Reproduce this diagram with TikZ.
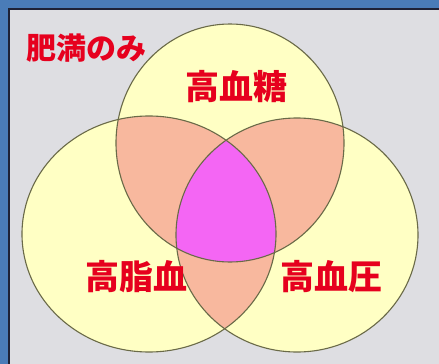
\documentclass[tikz,border=0pt]{standalone}
\usepackage{fontspec}
\newfontfamily\cjk{Noto Sans CJK JP}
\definecolor{bg}{HTML}{DEDEE2}
\definecolor{frameblue}{HTML}{4A7CB8}
\definecolor{framedark}{HTML}{1E2236}
\definecolor{yel}{HTML}{FFFFC4}
\definecolor{peach}{HTML}{F8B89E}
\definecolor{purp}{HTML}{F466F4}
\definecolor{edge}{HTML}{6A6A48}
\definecolor{lbl}{HTML}{E6001E}
\tikzset{
  lab/.style={text=lbl, font=\cjk\bfseries\fontsize{34}{34}\selectfont, inner sep=0pt},
  lab small/.style={text=lbl, font=\cjk\bfseries\fontsize{30}{30}\selectfont, inner sep=0pt},
  rim/.style={draw=edge, line width=1.1pt}
}
\begin{document}
\begin{tikzpicture}[x=1pt,y=-1pt]
\useasboundingbox (0,0) rectangle (439,364);
\fill[bg] (0,0) rectangle (439,364);
\fill[frameblue] (0,0) rectangle (439,8);
\fill[frameblue] (0,0) rectangle (8,364);
\draw[framedark, line width=2.2pt] (9,364) -- (9,9) -- (439,9);
\coordinate (T) at (230,143);
\coordinate (L) at (149,234);
\coordinate (R) at (297,235);
\def\Tsh{(T) ellipse [x radius=114, y radius=119]}
\def\Lsh{(L) ellipse [x radius=127, y radius=118]}
\def\Rsh{(R) ellipse [x radius=121, y radius=117]}
\fill[yel] \Tsh;
\fill[yel] \Lsh;
\fill[yel] \Rsh;
\begin{scope}
  \clip \Tsh;
  \fill[peach] \Lsh;
  \fill[peach] \Rsh;
\end{scope}
\begin{scope}
  \clip \Lsh;
  \fill[peach] \Rsh;
\end{scope}
\begin{scope}
  \clip \Tsh;
  \clip \Lsh;
  \fill[purp] \Rsh;
\end{scope}
\draw[rim] \Tsh;
\draw[rim] \Lsh;
\draw[rim] \Rsh;
\node[lab small] (only) at (86,48) {肥満のみ};
\node[lab] (glu) at (236,87) {高血糖};
\node[lab] (lip) at (136,277) {高脂血};
\node[lab] (bp) at (331,277) {高血圧};
\end{tikzpicture}
\end{document}
